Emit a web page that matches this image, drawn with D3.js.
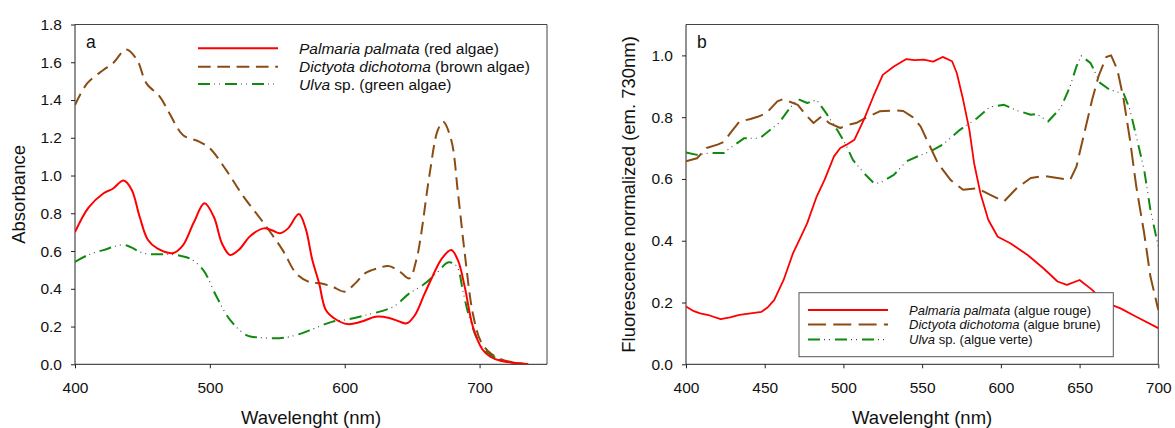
<!DOCTYPE html>
<html><head><meta charset="utf-8">
<script src="https://cdn.jsdelivr.net/npm/d3@7"></script>
<style>
html,body{margin:0;padding:0;background:#fff;}
svg text{font-family:"Liberation Sans",Arial,sans-serif;fill:#111;}
</style></head>
<body><svg id="c" width="1175" height="428"></svg>
<script>
// ---------- Panel a : absorbance ----------
const redWlA   = [400,410,421,428,436,442,448,454,461,473,480,488,496,503,509,515,522,530,540,546,552,558,566,571,576,581,586,593,602,612,623,633,640,646,652,659,665,672,679,684,689,695,702,708,715,725,736];
const redAbs   = [0.70,0.83,0.905,0.93,0.973,0.925,0.78,0.66,0.614,0.59,0.63,0.75,0.853,0.78,0.64,0.579,0.61,0.68,0.72,0.71,0.694,0.72,0.796,0.72,0.552,0.43,0.288,0.24,0.213,0.225,0.252,0.245,0.228,0.217,0.26,0.37,0.464,0.56,0.605,0.55,0.41,0.20,0.08,0.04,0.02,0.008,0.0];
const brownWlA = [400,409,421,428,438,446,453,463,470,480,492,500,512,525,540,554,564,574,582,591,600,608,615,625,633,641,648,653,656,663,669,673,679,684,689,695,701,708,715,725,736];
const brownAbs = [1.373,1.488,1.559,1.594,1.668,1.612,1.488,1.417,1.33,1.215,1.18,1.144,1.03,0.888,0.747,0.605,0.482,0.435,0.429,0.411,0.385,0.43,0.482,0.51,0.52,0.49,0.455,0.55,0.658,1.01,1.24,1.285,1.188,0.906,0.588,0.27,0.12,0.06,0.03,0.01,0.0];
const greenWlA = [400,410,421,436,451,460,470,478,485,495,505,515,527,537,547,556,564,574,591,600,616,636,648,658,668,677,683,688,693,700,708,715,725,736];
const greenAbs = [0.543,0.58,0.605,0.632,0.588,0.583,0.583,0.575,0.561,0.50,0.358,0.235,0.155,0.142,0.138,0.142,0.155,0.18,0.226,0.235,0.261,0.305,0.376,0.42,0.482,0.54,0.52,0.376,0.235,0.111,0.05,0.025,0.008,0.0];
const ticksXA = [400,500,600,700];
const ticksYA = [0,0.2,0.4,0.6,0.8,1.0,1.2,1.4,1.6,1.8];
const legendA = [
  {it:"Palmaria palmata", rest:" (red algae)"},
  {it:"Dictyota dichotoma", rest:" (brown algae)"},
  {it:"Ulva", rest:" sp. (green algae)"}
];

// ---------- Panel b : fluorescence ----------
const redWlB   = [400,405,409,415,422,428,434,441,448,452,456,462,468,473,477,483,488,494,498,502,507,513,519,525,532,540,545,551,557,563,569,572,576,580,583,587,592,598,606,617,627,636,642,650,658,665,676,686,700];
const redFluo  = [0.187,0.172,0.165,0.158,0.146,0.152,0.16,0.165,0.170,0.185,0.208,0.273,0.36,0.413,0.457,0.543,0.597,0.673,0.70,0.711,0.727,0.792,0.867,0.937,0.964,0.988,0.985,0.986,0.98,0.995,0.981,0.943,0.857,0.759,0.651,0.554,0.468,0.413,0.392,0.354,0.311,0.268,0.257,0.273,0.241,0.203,0.181,0.154,0.117];
const brownWlB = [400,407,413,420,424,429,434,441,446,451,458,462,466,471,476,481,486,491,498,503,508,515,523,532,538,544,549,555,560,568,576,585,593,602,610,619,627,636,644,648,652,658,662,667,670,674,678,682,686,691,695,700];
const brownFluo= [0.657,0.667,0.70,0.711,0.72,0.754,0.786,0.794,0.802,0.813,0.851,0.859,0.85,0.84,0.808,0.781,0.802,0.781,0.765,0.775,0.781,0.80,0.819,0.822,0.82,0.80,0.77,0.705,0.651,0.597,0.565,0.57,0.549,0.527,0.57,0.603,0.61,0.603,0.597,0.64,0.727,0.857,0.932,0.995,1.0,0.954,0.857,0.727,0.576,0.425,0.284,0.176];
const greenWlB = [400,407,415,424,428,437,447,451,459,466,471,477,483,489,496,501,506,513,519,523,532,540,548,555,563,574,585,593,602,610,619,623,630,638,644,648,651,657,663,669,678,682,686,691,695,700];
const greenFluo= [0.686,0.678,0.684,0.684,0.70,0.732,0.732,0.749,0.781,0.83,0.859,0.846,0.856,0.813,0.759,0.716,0.662,0.619,0.588,0.586,0.613,0.657,0.675,0.689,0.711,0.759,0.797,0.833,0.84,0.822,0.808,0.81,0.786,0.83,0.90,0.964,0.999,0.975,0.911,0.889,0.876,0.824,0.738,0.63,0.50,0.381];
const ticksXB = [400,450,500,550,600,650,700];
const ticksYB = [0,0.2,0.4,0.6,0.8,1.0];
const legendB = [
  {it:"Palmaria palmata", rest:" (algue rouge)"},
  {it:"Dictyota dichotoma", rest:" (algue brune)"},
  {it:"Ulva", rest:" sp. (algue verte)"}
];

const RED="#ff0000", BROWN="#8b4c13", GREEN="#0f8a0f";
const svg = d3.select("#c");

function zip(wl, v){ return wl.map((w,i)=>[w, v[i]]); }

function panel(o){
  const g = svg.append("g");
  const x = d3.scaleLinear().domain(o.xd).range([o.L, o.R]);
  const y = d3.scaleLinear().domain(o.yd).range([o.B, o.T]);
  g.append("path").attr("d",`M${o.L},${o.T}H${o.R}V${o.B}`).attr("fill","none").attr("stroke","#444").attr("stroke-width",1);
  const ax = g.append("g").attr("transform",`translate(0,${o.B})`)
    .call(d3.axisBottom(x).tickValues(o.tx).tickFormat(d3.format("d")).tickSizeOuter(0).tickSize(4).tickPadding(13.4));
  const ay = g.append("g").attr("transform",`translate(${o.L},0)`)
    .call(d3.axisLeft(y).tickValues(o.ty).tickFormat(d3.format(".1f")).tickSizeOuter(0).tickSize(4).tickPadding(9));
  [ax,ay].forEach(a=>{
    a.select(".domain").attr("stroke","#222").attr("stroke-width",1);
    a.selectAll(".tick line").attr("stroke","#222");
    a.selectAll("text").style("font-size","15.5px").attr("fill","#111").style("font-family",'"Liberation Sans",Arial,sans-serif');
  });
  ay.select(".domain").attr("d",`M0,${o.B}V${o.T}`);
  ax.select(".domain").attr("d",`M${o.L},0H${o.R}`);

  const clipId = "clip"+o.id;
  svg.append("clipPath").attr("id",clipId).append("rect").attr("x",o.L).attr("y",o.T).attr("width",o.R-o.L).attr("height",o.B-o.T);
  const line = d3.line().x(d=>x(d[0])).y(d=>y(d[1])).curve(o.curve);
  const lg = g.append("g").attr("clip-path",`url(#${clipId})`);
  o.series.forEach((s,i)=>{
    const st = o.styles[i];
    lg.append("path").datum(s).attr("d",line).attr("fill","none")
      .attr("stroke",st.c).attr("stroke-width",st.w).attr("stroke-dasharray",st.da||null)
      .attr("stroke-linejoin","round");
    if(st.dots){
      lg.append("path").datum(s).attr("d",line).attr("fill","none")
        .attr("stroke","#444").attr("stroke-width",1.1).attr("stroke-dasharray",st.dots);
    }
  });
  g.append("text").attr("x",o.L+11).attr("y",47.5).text(o.letter).style("font-size","17.5px");
  g.append("text").attr("x",(o.L+o.R)/2).attr("y",424).attr("text-anchor","middle").text("Wavelenght (nm)").style("font-size","18.5px");
  g.append("text").attr("transform",`translate(${o.ytx},${(o.T+o.B)/2}) rotate(-90)`).attr("text-anchor","middle").text(o.ytitle).style("font-size","18.5px");
  return {g,x,y};
}

const stylesA = [
  {c:RED,w:2},
  {c:BROWN,w:2,da:"12.7 6.6"},
  {c:GREEN,w:2,da:"12 15",dots:"0 16 1 4 1 5"}
];
const stylesB = [
  {c:RED,w:1.8},
  {c:BROWN,w:2,da:"18 7.3"},
  {c:GREEN,w:2,da:"12 15",dots:"0 16 1 4 1 5"}
];

panel({id:"a", L:75, R:547, T:24.5, B:364.3, xd:[400,750], yd:[0,1.8], tx:ticksXA, ty:ticksYA,
  curve:d3.curveCatmullRom.alpha(0.5), letter:"a", ytitle:"Absorbance", ytx:25,
  series:[zip(greenWlA,greenAbs), zip(brownWlA,brownAbs), zip(redWlA,redAbs)],
  styles:[stylesA[2],stylesA[1],stylesA[0]]});

panel({id:"b", L:686, R:1158.3, T:24.5, B:364.3, xd:[400,700], yd:[0,1.1], tx:ticksXB, ty:ticksYB,
  curve:d3.curveLinear, letter:"b", ytitle:"Fluorescence normalized (em. 730nm)", ytx:635,
  series:[zip(greenWlB,greenFluo), zip(brownWlB,brownFluo), zip(redWlB,redFluo)],
  styles:[stylesB[2],stylesB[1],stylesB[0]]});

(function(){
  const g = svg.append("g");
  const ys=[48.3,66.7,84];
  legendA.forEach((d,i)=>{
    const st = stylesA[i];
    g.append("line").attr("x1",198).attr("x2",278).attr("y1",ys[i]).attr("y2",ys[i])
      .attr("stroke",st.c).attr("stroke-width",st.w).attr("stroke-dasharray",st.da||null);
    if(st.dots) g.append("line").attr("x1",198).attr("x2",278).attr("y1",ys[i]).attr("y2",ys[i])
      .attr("stroke","#444").attr("stroke-width",1.1).attr("stroke-dasharray",st.dots);
    const t = g.append("text").attr("x",299).attr("y",ys[i]+5.5).style("font-size","15.5px");
    t.append("tspan").style("font-style","italic").text(d.it);
    t.append("tspan").text(d.rest);
  });
})();

(function(){
  const g = svg.append("g");
  g.append("rect").attr("x",799).attr("y",292.7).attr("width",1113.3-799).attr("height",356.7-292.7)
    .attr("fill","#fff").attr("stroke","#555").attr("stroke-width",1);
  const ys=[310,324.6,339.6];
  legendB.forEach((d,i)=>{
    const st = stylesB[i];
    g.append("line").attr("x1",808).attr("x2",888).attr("y1",ys[i]).attr("y2",ys[i])
      .attr("stroke",st.c).attr("stroke-width",st.w).attr("stroke-dasharray",st.da||null);
    if(st.dots) g.append("line").attr("x1",808).attr("x2",888).attr("y1",ys[i]).attr("y2",ys[i])
      .attr("stroke","#444").attr("stroke-width",1.1).attr("stroke-dasharray",st.dots);
    const t = g.append("text").attr("x",909).attr("y",ys[i]+4.7).style("font-size","13px");
    t.append("tspan").style("font-style","italic").text(d.it);
    t.append("tspan").text(d.rest);
  });
})();
</script></body></html>
